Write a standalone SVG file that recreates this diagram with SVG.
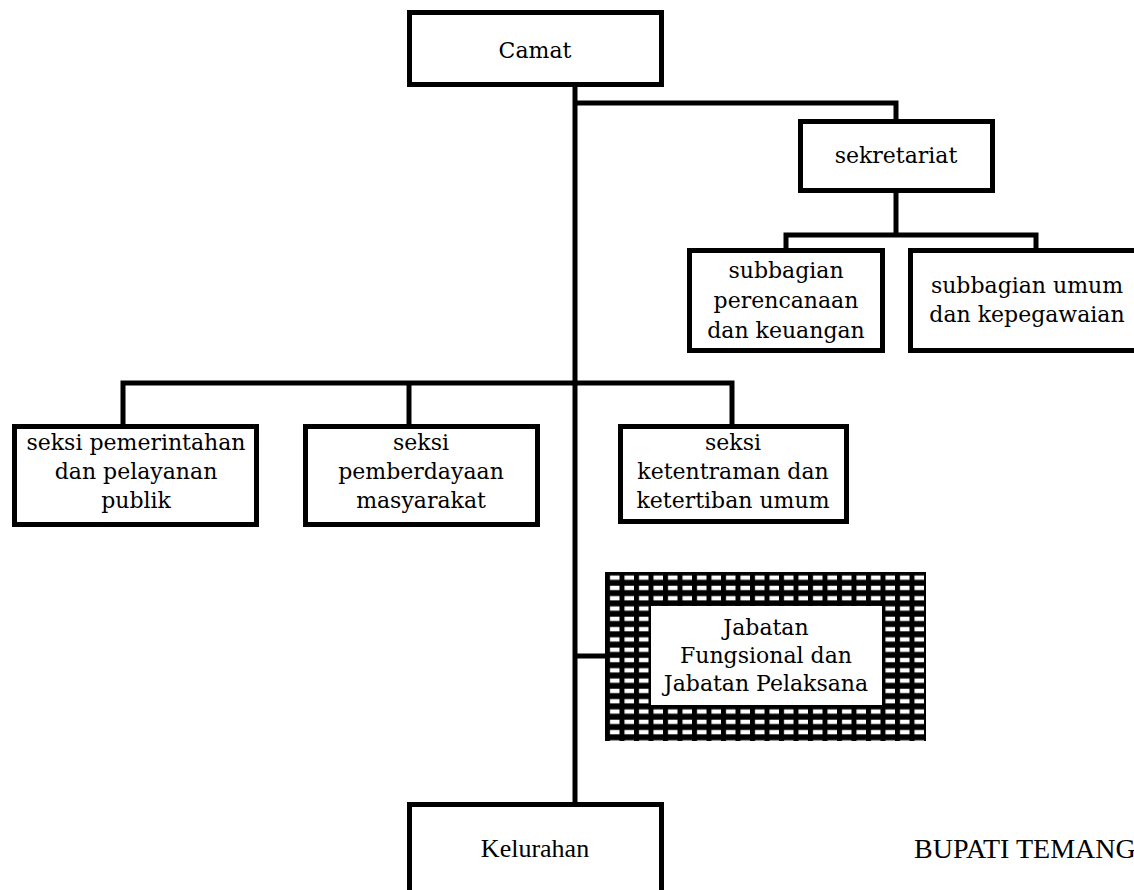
<svg xmlns="http://www.w3.org/2000/svg" width="1134" height="890" viewBox="0 0 1134 890">
<style>
.box{fill:#fff;stroke:#000;stroke-width:5}
.ln{fill:none;stroke:#000;stroke-width:5}
.t{font-family:"DejaVu Serif","Liberation Serif",serif;font-size:22px;fill:#000;text-anchor:middle}
.t2{font-family:"Liberation Serif",serif;font-size:26px;fill:#000;text-anchor:middle}
</style>
<defs>
<pattern id="grid" patternUnits="userSpaceOnUse" x="605" y="572" width="14.5" height="10.3">
<rect width="14.5" height="10.3" fill="#000"/>
<rect x="5" y="3.5" width="9.5" height="4.3" fill="#fff"/>
</pattern>
</defs>
<rect width="1134" height="890" fill="#fff"/>
<g id="connectors">
<path class="ln" d="M575,87 V802"/>
<path class="ln" d="M575,103 H896 V119"/>
<path class="ln" d="M896,193 V235"/>
<path class="ln" d="M786,248 V235 H1036 V248"/>
<path class="ln" d="M123,424 V383 H732 V424"/>
<path class="ln" d="M409,383 V424"/>
<path class="ln" d="M575,656 H605"/>
</g>
<g id="camat">
<rect class="box" x="409.5" y="12.5" width="252" height="72"/>
<text class="t" x="535" y="58">Camat</text>
</g>
<g id="sekretariat">
<rect class="box" x="800.5" y="121.5" width="192" height="69"/>
<text class="t" x="896" y="163">sekretariat</text>
</g>
<g id="subbagian-perencanaan">
<rect class="box" x="689.5" y="250.5" width="193" height="100"/>
<text class="t" x="786" y="278">subbagian</text>
<text class="t" x="786" y="308">perencanaan</text>
<text class="t" x="786" y="338">dan keuangan</text>
</g>
<g id="subbagian-umum">
<rect class="box" x="910.5" y="250.5" width="250" height="100"/>
<text class="t" x="1027" y="293">subbagian umum</text>
<text class="t" x="1027" y="322">dan kepegawaian</text>
</g>
<g id="seksi-pemerintahan">
<rect class="box" x="14.5" y="426.5" width="242" height="98"/>
<text class="t" x="136" y="450">seksi pemerintahan</text>
<text class="t" x="136" y="479">dan pelayanan</text>
<text class="t" x="136" y="508">publik</text>
</g>
<g id="seksi-pemberdayaan">
<rect class="box" x="305.5" y="426.5" width="232" height="98"/>
<text class="t" x="421" y="450">seksi</text>
<text class="t" x="421" y="479">pemberdayaan</text>
<text class="t" x="421" y="508">masyarakat</text>
</g>
<g id="seksi-ketentraman">
<rect class="box" x="620.5" y="426.5" width="226" height="95"/>
<text class="t" x="733" y="450">seksi</text>
<text class="t" x="733" y="479">ketentraman dan</text>
<text class="t" x="733" y="508">ketertiban umum</text>
</g>
<g id="jabatan">
<rect x="605" y="572" width="321" height="169" fill="url(#grid)"/>
<rect x="651" y="606" width="231" height="99" fill="#fff"/>
<text class="t" x="766" y="635">Jabatan</text>
<text class="t" x="766" y="663">Fungsional dan</text>
<text class="t" x="766" y="691">Jabatan Pelaksana</text>
</g>
<g id="kelurahan">
<rect class="box" x="409.5" y="804.5" width="252" height="100"/>
<text class="t2" x="535" y="857">Kelurahan</text>
</g>
<text x="914" y="858" font-family="Liberation Serif, serif" font-size="28" fill="#000">BUPATI TEMANG</text>
</svg>
